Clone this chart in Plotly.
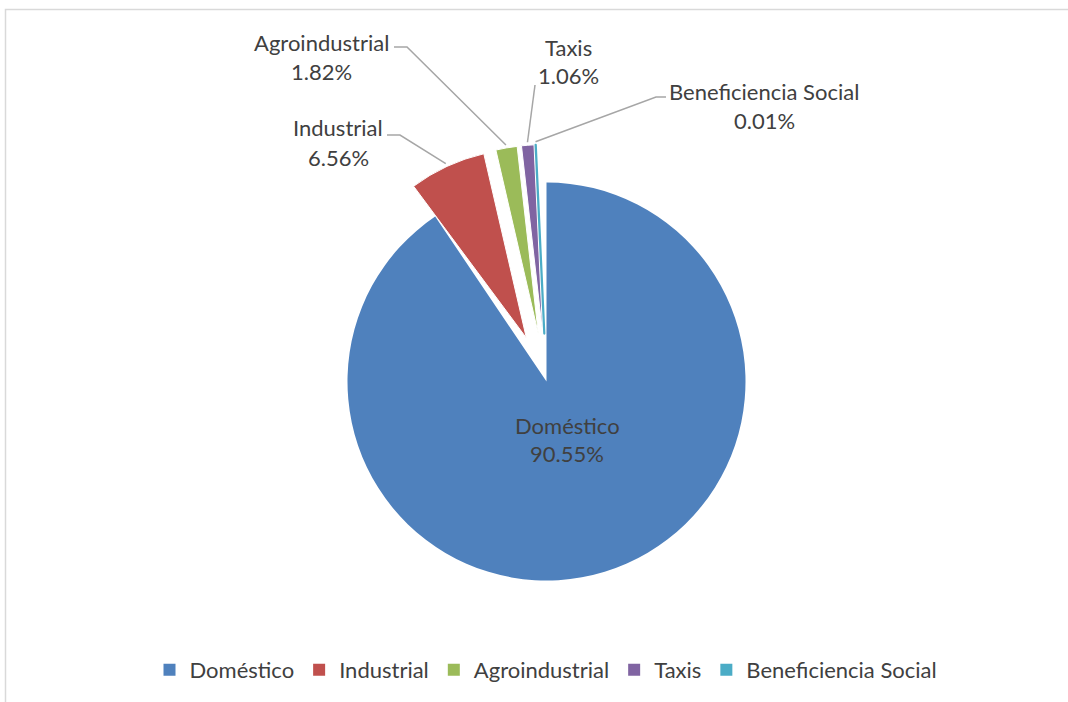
import math
import plotly.graph_objects as go

# ---------------- data ----------------
categories = ["Doméstico", "Industrial", "Agroindustrial", "Taxis", "Beneficiencia Social"]
values = [90.55, 6.56, 1.82, 1.06, 0.01]
pct_labels = ["90.55%", "6.56%", "1.82%", "1.06%", "0.01%"]

# ---------------- styles ----------------
colors = ["#4F81BD", "#C0504D", "#9BBB59", "#8064A2", "#4BACC6"]
pulls = [0, 0.254, 0.254, 0.254, 0.254]
TEXT = "#404040"
LEADER = "#A6A6A6"
FONT = "Lato"
FS = 22

W, H = 1068, 702
CX, CY = 546.5, 381.5     # pie centre (px)
R_MAIN = 199              # radius of main slice (px)
R_EXPL = 189              # radius of exploded slices (px)
ROT_EXPL = -2.6           # slight rotation of exploded group, as in the reference
TRANSPARENT = "rgba(0,0,0,0)"


def px(x):
    return x / W


def py(y):
    return 1 - y / H


def domain(half, cx=CX, cy=CY):
    return dict(x=[px(cx - half), px(cx + half)], y=[py(cy + half), py(cy - half)])


fig = go.Figure()

# legend carrier: a tiny pie hidden under the main slice
fig.add_trace(go.Pie(
    labels=categories, values=values, sort=False, direction="clockwise",
    textinfo="none", hoverinfo="skip",
    marker=dict(colors=colors, line=dict(width=0)),
    domain=domain(0.4, cx=640, cy=500),
    showlegend=True,
))

# exploded slices
expl_colors = [TRANSPARENT] + colors[1:]
fig.add_trace(go.Pie(
    labels=categories, values=values, sort=False, direction="clockwise", rotation=ROT_EXPL,
    pull=pulls, textinfo="none", hoverinfo="label+percent",
    marker=dict(colors=expl_colors,
                line=dict(color=[TRANSPARENT, "#FFFFFF", "#FFFFFF", "#FFFFFF", colors[4]],
                          width=[0, 1, 1, 1, 2.2])),
    domain=domain(R_EXPL * (1 + max(pulls))),
    showlegend=False,
))

# main (non-exploded) slice drawn at full radius
main_colors = [colors[0]] + [TRANSPARENT] * (len(values) - 1)
fig.add_trace(go.Pie(
    labels=categories, values=values, sort=False, direction="clockwise", rotation=0,
    textinfo="none", hoverinfo="label+percent",
    marker=dict(colors=main_colors, line=dict(width=0)),
    domain=domain(R_MAIN),
    showlegend=False,
))

# ---------------- labels & leader lines ----------------
# label layout: (x centre, y of name, y of percent, leader start points)
label_layout = {
    "Doméstico": (567, 425, 453, None),
    "Industrial": (338, 128, 157, [(387, 135), (400, 135)]),
    "Agroindustrial": (321, 42, 71, [(394, 47), (407, 47)]),
    "Taxis": (568, 48, 76, [(535, 85)]),
    "Beneficiencia Social": (764, 91, 120, [(666, 97), (656, 97)]),
}

annotations = []
shapes = []
total = sum(values)
cum = 0.0
for cat, v, pct, pull in zip(categories, values, pct_labels, pulls):
    mid = 2 * math.pi * (cum + v / 2) / total + math.radians(ROT_EXPL)
    cum += v
    lx, ly1, ly2, pts = label_layout[cat]
    for txt, yy in ((cat, ly1), (pct, ly2)):
        annotations.append(dict(
            x=px(lx), y=py(yy), xref="paper", yref="paper", text=txt, showarrow=False,
            xanchor="center", yanchor="middle", font=dict(family=FONT, size=FS, color=TEXT)))
    if pts:
        d = R_EXPL * (1 + pull) + 3
        ex, ey = CX + d * math.sin(mid), CY - d * math.cos(mid)
        allpts = pts + [(ex, ey)]
        path = "M" + " L".join(f"{px(a):.5f},{py(b):.5f}" for a, b in allpts)
        shapes.append(dict(type="path", xref="paper", yref="paper", path=path,
                           line=dict(color=LEADER, width=1.5)))

# chart area border (top and left visible)
shapes.append(dict(type="rect", xref="paper", yref="paper",
                   x0=px(5.5), x1=px(1090), y0=py(720), y1=py(9.5),
                   line=dict(color="#D9D9D9", width=1.5), fillcolor=TRANSPARENT, layer="below"))

fig.update_layout(
    width=W, height=H,
    margin=dict(l=0, r=0, t=0, b=0),
    paper_bgcolor="white", plot_bgcolor="white",
    annotations=annotations, shapes=shapes,
    legend=dict(orientation="h", x=px(546), xanchor="center", y=py(670), yanchor="middle",
                font=dict(family=FONT, size=FS, color=TEXT), itemclick=False,
                traceorder="normal", bgcolor=TRANSPARENT),
    font=dict(family=FONT, color=TEXT),
)

fig.write_html("out.html")
